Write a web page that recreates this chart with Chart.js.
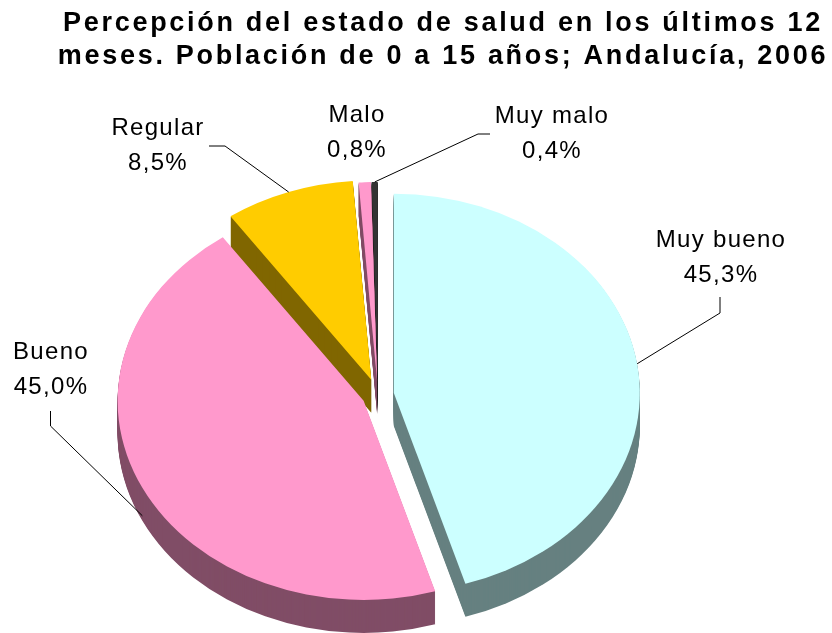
<!DOCTYPE html>
<html>
<head>
<meta charset="utf-8">
<script src="https://cdn.jsdelivr.net/npm/chart.js@4.4.1/dist/chart.umd.min.js"></script>
<style>
  html, body { margin: 0; padding: 0; background: #fff; }
  #wrap { width: 832px; height: 633px; position: relative; }
</style>
</head>
<body>
<div id="wrap"><canvas id="chart"></canvas></div>
<script>
const TITLE_LINES = [
  'Percepción del estado de salud en los últimos 12',
  'meses. Población de 0 a 15 años; Andalucía, 2006'
];
const CATEGORIES = ['Muy bueno', 'Bueno', 'Regular', 'Malo', 'Muy malo'];
const PERCENTS = [45.3, 45.0, 8.5, 0.8, 0.4];

// top face / side face colours (Excel 3D pie look)
const FACE_COLORS = ['#CCFFFF', '#FF99CC', '#FFCC00', '#FF99CC', '#333333'];
const SIDE_COLORS = ['#668080', '#804D66', '#806600', '#804D66', '#1A1A1A'];
const EXPLODE = [16, 16, 20, 17, 17];
const TILT = 0.81;   // vertical squash of the pie
const DEPTH = 33;    // thickness in px

// label anchor (centre x, first baseline) and leader elbow points
const LABEL_LAYOUT = [
  { x: 721, y: 247, leader: [[720, 297], [720, 313]], drop: 0 },
  { x: 51, y: 359, leader: [[50.5, 411], [50.5, 426]], drop: 28 },
  { x: 158, y: 135, leader: [[209, 146], [225, 146]], drop: 0 },
  { x: 357, y: 122, leader: null, drop: 0 },
  { x: 552, y: 123, leader: [[490, 134], [478, 134]], drop: 0 }
];
const LINE_GAP = 35;

const fmtPct = (v) => v.toFixed(1).replace('.', ',') + '%';

function paintArc(ctx, arc, i, depth) {
  const mid = (arc.startAngle + arc.endAngle) / 2;
  ctx.save();
  ctx.translate(Math.cos(mid) * EXPLODE[i], Math.sin(mid) * EXPLODE[i] + depth / TILT);
  arc.draw(ctx);
  ctx.restore();
}

const tiltPlugin = {
  id: 'tilt3d',
  beforeDatasetDraw(chart, args) {
    const ctx = chart.ctx;
    const arcs = args.meta.data;
    const cx = arcs[0].x, cy = arcs[0].y;
    ctx.save();
    ctx.translate(cx, cy);
    ctx.scale(1, TILT);
    ctx.translate(-cx, -cy);

    // side walls, back slices first
    const order = arcs.map((a, i) => i).sort((a, b) => {
      const ma = (arcs[a].startAngle + arcs[a].endAngle) / 2;
      const mb = (arcs[b].startAngle + arcs[b].endAngle) / 2;
      return Math.sin(ma) - Math.sin(mb);
    });
    order.forEach(i => {
      const arc = arcs[i];
      const side = Object.assign(Object.create(Object.getPrototypeOf(arc)), arc);
      side.options = Object.assign({}, arc.options, { backgroundColor: SIDE_COLORS[i], borderWidth: 0 });
      for (let d = DEPTH; d >= 1; d--) paintArc(ctx, side, i, d);
    });
    // top faces
    arcs.forEach((arc, i) => paintArc(ctx, arc, i, 0));
    ctx.restore();
    return false;
  },
  afterDraw(chart) {
    const ctx = chart.ctx;
    const arcs = chart.getDatasetMeta(0).data;
    ctx.save();
    ctx.fillStyle = '#000';
    ctx.textBaseline = 'alphabetic';

    // title
    ctx.font = 'bold 27px "Liberation Sans", Arial, sans-serif';
    ctx.letterSpacing = '2.7px';
    ctx.textAlign = 'left';
    TITLE_LINES.forEach((t, k) => {
      const w = ctx.measureText(t).width;
      ctx.fillText(t, 443 - w / 2, 31 + 33 * k);
    });

    // data labels
    ctx.font = '24px "Liberation Sans", Arial, sans-serif';
    ctx.letterSpacing = '1.3px';
    CATEGORIES.forEach((name, i) => {
      const L = LABEL_LAYOUT[i];
      [name, fmtPct(PERCENTS[i])].forEach((t, k) => {
        const w = ctx.measureText(t).width;
        ctx.fillText(t, L.x - w / 2, L.y + LINE_GAP * k);
      });
      if (!L.leader) return;
      const arc = arcs[i];
      const mid = (arc.startAngle + arc.endAngle) / 2;
      const r = arc.outerRadius + EXPLODE[i];
      const tx = arc.x + Math.cos(mid) * r;
      const ty = arc.y + Math.sin(mid) * r * TILT + L.drop;
      ctx.strokeStyle = '#000';
      ctx.lineWidth = 1;
      ctx.beginPath();
      ctx.moveTo(L.leader[0][0], L.leader[0][1]);
      ctx.lineTo(L.leader[1][0], L.leader[1][1]);
      ctx.lineTo(tx, ty);
      ctx.stroke();
    });
    ctx.restore();
  }
};

new Chart(document.getElementById('chart'), {
  type: 'pie',
  data: {
    labels: CATEGORIES,
    datasets: [{
      data: PERCENTS,
      backgroundColor: FACE_COLORS,
      borderWidth: 0,
      offset: 0,
      hoverOffset: 0
    }]
  },
  options: {
    responsive: true,
    maintainAspectRatio: false,
    animation: false,
    events: [],
    radius: 246,
    layout: { padding: { left: 0, right: 76, top: 157, bottom: 0 } },
    plugins: {
      legend: { display: false },
      tooltip: { enabled: false },
      title: { display: false }
    }
  },
  plugins: [tiltPlugin]
});
</script>
</body>
</html>
